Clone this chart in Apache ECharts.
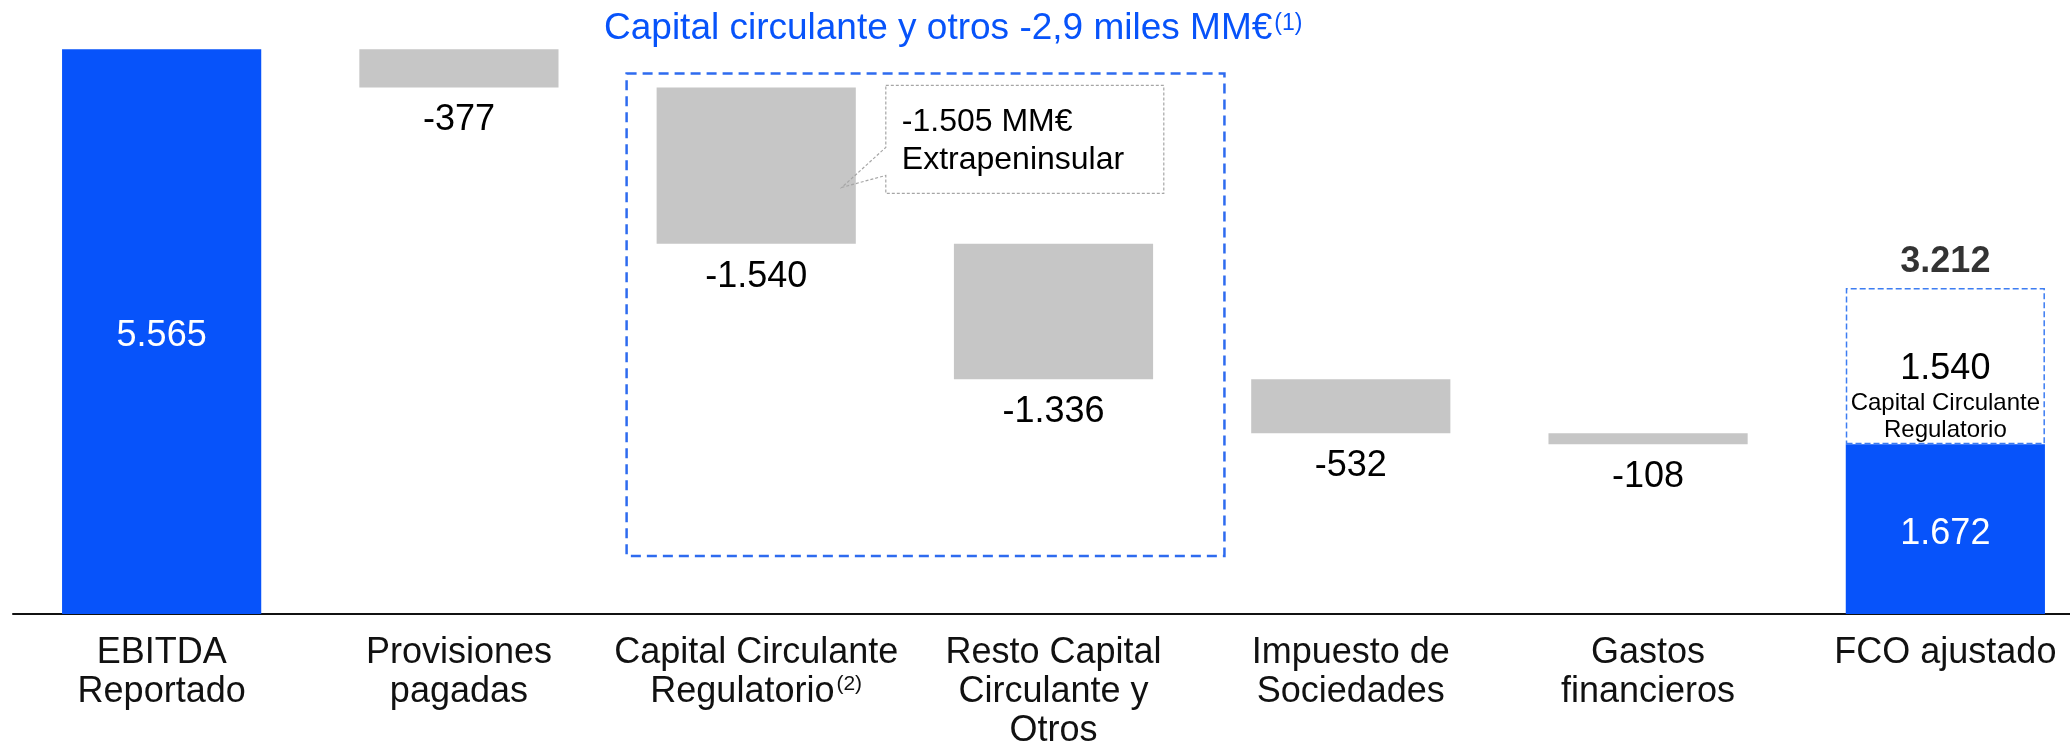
<!DOCTYPE html>
<html>
<head>
<meta charset="utf-8">
<script src="https://cdn.jsdelivr.net/npm/echarts@6/dist/echarts.min.js"></script>
<style>
  html, body { margin: 0; padding: 0; background: #fff; }
  #chart { width: 2070px; height: 743px; }
</style>
</head>
<body>
<div id="chart"></div>
<script>
const categories = ['EBITDA\nReportado', 'Provisiones\npagadas', 'Capital Circulante\nRegulatorio', 'Resto Capital\nCirculante y\nOtros', 'Impuesto de\nSociedades', 'Gastos\nfinancieros', 'FCO ajustado'];
const categoryNotes = ['', '', '(2)', '', '', '', ''];
const ebitda = 5565;
const changes = [-377, -1540, -1336, -532, -108];
const fcoBase = 1672;
const fcoRegulatorio = 1540;
const fcoAjustado = 3212;
const extrapeninsular = -1505;
const groupTitle = 'Capital circulante y otros -2,9 miles MM€';
const groupNote = '(1)';
const regulatorioNote = ['Capital Circulante', 'Regulatorio'];

const blue = '#0753FA';
const grey = '#C6C6C6';
const font = 'Liberation Sans';

function fmt(v) {
  const s = String(Math.abs(v)).replace(/\B(?=(\d{3})+(?!\d))/g, '.');
  return (v < 0 ? '-' : '') + s;
}

// waterfall: invisible base + visible step
let running = ebitda;
const base = [0];
const steps = ['-'];
changes.forEach(c => {
  running += c;
  base.push(running);
  steps.push(-c);
});
base.push(0);
steps.push('-');
const totals = [ebitda, '-', '-', '-', '-', '-', fcoBase];
const regulatorio = ['-', '-', '-', '-', '-', '-', fcoRegulatorio];

const chart = echarts.init(document.getElementById('chart'));

chart.setOption({
  animation: false,
  textStyle: {fontFamily: font},
  title: {
    text: groupTitle + '{sup|' + groupNote + '}',
    left: 604,
    top: 9,
    padding: 0,
    textStyle: {
      color: blue, fontSize: 37, fontWeight: 'normal', fontFamily: font, lineHeight: 40,
      rich: {sup: {color: blue, fontSize: 23, fontFamily: font, verticalAlign: 'top', lineHeight: 26, padding: [3, 0, 0, 2]}}
    }
  },
  // the last bar runs past the right edge in the original
  grid: {left: 13, width: 2081, top: 5, bottom: 129, outerBoundsMode: 'none'},
  xAxis: {
    type: 'category',
    data: categories,
    axisTick: {show: false},
    axisLine: {lineStyle: {color: '#111', width: 2}},
    axisLabel: {
      color: '#111', fontSize: 36, fontFamily: font, lineHeight: 39, margin: 20, interval: 0,
      formatter: (v, i) => v + (categoryNotes[i] ? '{sup|' + categoryNotes[i] + '}' : ''),
      rich: {sup: {color: '#111', fontSize: 21, fontFamily: font, verticalAlign: 'top', lineHeight: 24, padding: [1, 0, 0, 2]}}
    }
  },
  yAxis: {type: 'value', min: 0, max: 6000, show: false, splitLine: {show: false}},
  series: [{
    name: 'base', type: 'bar', stack: 'w', barWidth: '67%', data: base,
    itemStyle: {color: 'rgba(0,0,0,0)'}, silent: true
  }, {
    name: 'totals', type: 'bar', stack: 'w', data: totals,
    itemStyle: {color: blue},
    label: {show: true, position: 'inside', offset: [0, 5], color: '#fff', fontSize: 36, fontFamily: font,
      formatter: p => fmt(p.value)}
  }, {
    name: 'steps', type: 'bar', stack: 'w', data: steps,
    itemStyle: {color: grey},
    label: {show: true, position: 'bottom', distance: 15, color: '#000', fontSize: 36, fontFamily: font,
      formatter: p => fmt(-p.value)}
  }, {
    name: 'regulatorio', type: 'bar', stack: 'w', data: regulatorio,
    itemStyle: {color: 'rgba(255,255,255,0)', borderColor: '#3D7DF2', borderWidth: 1.5, borderType: [6, 3]},
    label: {
      show: true, position: 'inside', offset: [0, 30],
      formatter: p => '{b|' + fmt(p.value) + '}\n' + regulatorioNote.map(t => '{s|' + t + '}').join('\n'),
      rich: {
        b: {color: '#000', fontSize: 36, fontFamily: font, lineHeight: 42},
        s: {color: '#000', fontSize: 24, fontFamily: font, lineHeight: 27}
      }
    }
  }, {
    name: 'total', type: 'scatter', data: [[6, fcoAjustado]], symbolSize: 1,
    itemStyle: {color: 'rgba(0,0,0,0)'},
    label: {show: true, position: 'top', distance: 7, color: '#000', fontSize: 36, fontWeight: 'bold', fontFamily: font,
      formatter: p => fmt(p.value[1])}
  }]
});

// annotation boxes placed from the axes
const px = (i, v) => chart.convertToPixel({gridIndex: 0}, [i, v]);
const band = px(1, 0)[0] - px(0, 0)[0];
const [cx2, yCapTop] = px(2, base[1]);
const cx3 = px(3, 0)[0];
const y0 = px(0, 0)[1];

const boxL = cx2 - 0.436 * band, boxR = cx3 + 0.575 * band;
const boxT = yCapTop - 14, boxB = y0 - 58;

const barRight = cx2 + 0.335 * band;
const cL = barRight + 30, cR = cL + 278, cT = yCapTop - 2, cB = cT + 108;

chart.setOption({
  graphic: [{
    type: 'rect', z: 10, silent: true,
    shape: {x: boxL, y: boxT, width: boxR - boxL, height: boxB - boxT},
    style: {fill: null, stroke: '#2E6BEF', lineWidth: 2.5, lineDash: [10, 6]}
  }, {
    type: 'polygon', z: 10, silent: true,
    shape: {points: [[cL, cT], [cR, cT], [cR, cB], [cL, cB], [cL, cT + 90], [barRight - 14, cT + 102], [cL, cT + 62]]},
    style: {fill: null, stroke: '#A6A6A6', lineWidth: 1.2, lineDash: [3, 2]}
  }, {
    type: 'text', z: 10, silent: true,
    x: cL + 16, y: cT + 18,
    style: {
      text: fmt(extrapeninsular) + ' MM€\nExtrapeninsular',
      fill: '#000', fontSize: 32, fontFamily: font, lineHeight: 38, verticalAlign: 'top'
    }
  }]
});
</script>
</body>
</html>
